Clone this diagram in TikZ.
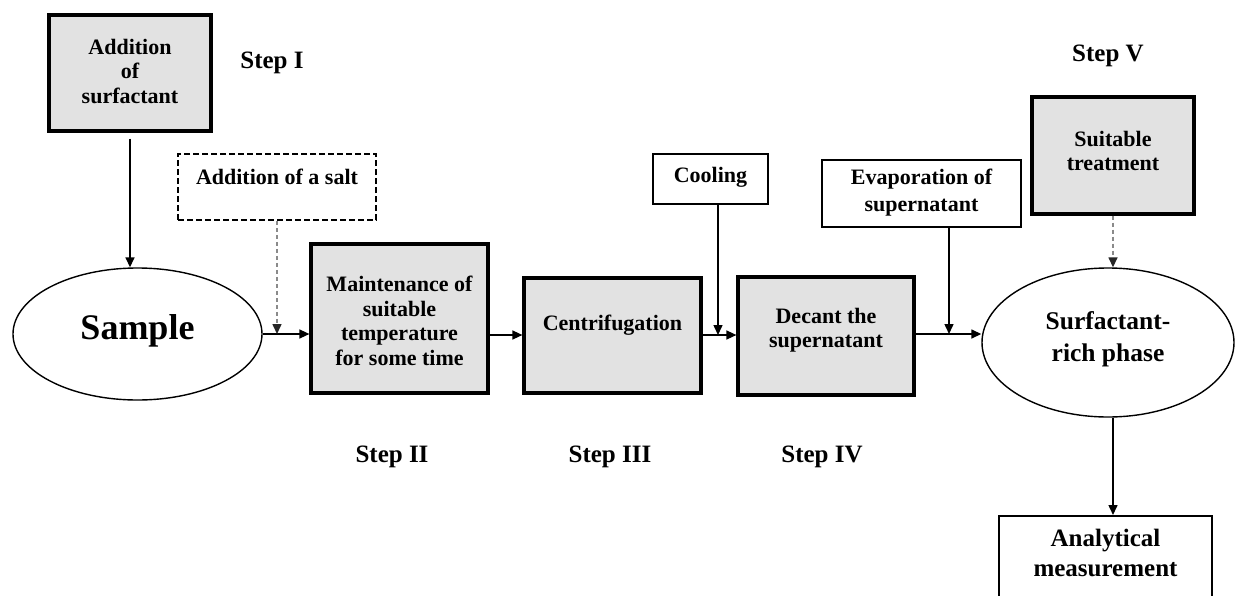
\documentclass[tikz,border=0pt]{standalone}
\usepackage{fontspec}
\setmainfont{Liberation Serif}
\usetikzlibrary{arrows.meta,shapes.geometric}
\definecolor{boxgrey}{HTML}{E2E2E2}
\definecolor{dashgrey}{HTML}{8A8A8A}
\begin{document}
\begin{tikzpicture}[x=1pt,y=-1pt,
  greybox/.style={draw=black, fill=boxgrey, line width=3.2pt, inner sep=0pt},
  whitebox/.style={draw=black, fill=white, line width=1.5pt, inner sep=0pt},
  dashbox/.style={draw=black, fill=white, line width=1.5pt, inner sep=0pt, dash pattern=on 6pt off 3pt},
  oval/.style={ellipse, draw=black, fill=white, line width=1.4pt, inner sep=0pt},
  txt/.style={font=\bfseries\fontsize{22}{24.5}\selectfont, align=center, inner sep=0pt},
  steplbl/.style={font=\bfseries\fontsize{25}{28}\selectfont, inner sep=0pt},
  arr/.style={line width=1.5pt, -{Triangle[length=10pt,width=9pt]}},
  darr/.style={line width=1.5pt, draw=dashgrey, dash pattern=on 4pt off 3pt, -{Triangle[length=10pt,width=9pt,color=black!85]}}
]
\clip (0,0) rectangle (1235,595);
\fill[white] (0,0) rectangle (1235,595);

% boxes
\node[greybox, minimum width=162, minimum height=116] (surf) at (130,73) {};
\node[txt] (surfT) at (130,71) {Addition\\of\\surfactant};

\node[dashbox, minimum width=198, minimum height=66] (salt) at (277,187) {};
\node[txt] (saltT) at (277,177) {Addition of a salt};

\node[oval, minimum width=249, minimum height=132] (sample) at (137.5,334) {};
\node[font=\bfseries\fontsize{36}{40}\selectfont, inner sep=0pt] (sampleT) at (137.5,331) {Sample};

\node[greybox, minimum width=177, minimum height=149] (maint) at (399.5,318.5) {};
\node[txt] (maintT) at (399.5,321) {Maintenance of\\suitable\\temperature\\for some time};

\node[greybox, minimum width=177, minimum height=115] (centr) at (612.5,335.5) {};
\node[txt] (centrT) at (612.5,325) {Centrifugation};

\node[whitebox, minimum width=115, minimum height=50] (cool) at (710.5,179) {};
\node[txt] (coolT) at (710.5,177) {Cooling};

\node[greybox, minimum width=176, minimum height=118] (decant) at (826,336) {};
\node[txt] (decantT) at (826,330) {Decant the\\supernatant};

\node[whitebox, minimum width=199, minimum height=67] (evap) at (921.5,193.5) {};
\node[txt, font=\bfseries\fontsize{22}{27}\selectfont] (evapT) at (921.5,193) {Evaporation of\\supernatant};

\node[greybox, minimum width=162, minimum height=117] (suit) at (1113,155.5) {};
\node[txt] (suitT) at (1113,151) {Suitable\\treatment};

\node[oval, minimum width=252, minimum height=149] (rich) at (1108,342.5) {};
\node[txt, font=\bfseries\fontsize{25.5}{32}\selectfont] (richT) at (1108,339) {Surfactant-\\rich phase};

\node[whitebox, minimum width=213, minimum height=110, anchor=north] (anal) at (1105.5,515) {};
\node[txt, font=\bfseries\fontsize{25}{30}\selectfont] (analT) at (1105.5,553) {Analytical\\measurement};

% step labels
\node[steplbl] (s1) at (272,63) {Step I};
\node[steplbl] (s2) at (392,457) {Step II};
\node[steplbl] (s3) at (610,457) {Step III};
\node[steplbl] (s4) at (822,457) {Step IV};
\node[steplbl] (s5) at (1108,56) {Step V};

% junction coordinates
\coordinate (j1) at (277,334);
\coordinate (j2) at (718,335);
\coordinate (j3) at (949,334);

% connectors
\draw[arr, shorten <=6pt] (surf.south) -- (surf.south |- sample.north);
\draw[arr] (sample.east |- j1) -- (maint.west |- j1);
\draw[darr] (salt.south) -- (j1);
\draw[arr] (maint.east |- j2) -- (centr.west |- j2);
\draw[arr] (centr.east |- j2) -- (decant.west |- j2);
\draw[arr] (cool.south -| j2) -- (j2);
\draw[arr] (decant.east |- j3) -- (rich.west |- j3);
\draw[arr] (evap.south -| j3) -- (j3);
\draw[darr] (suit.south) -- (suit.south |- rich.north);
\draw[arr] (rich.south -| suit.south) -- (anal.north -| suit.south);
\end{tikzpicture}
\end{document}
